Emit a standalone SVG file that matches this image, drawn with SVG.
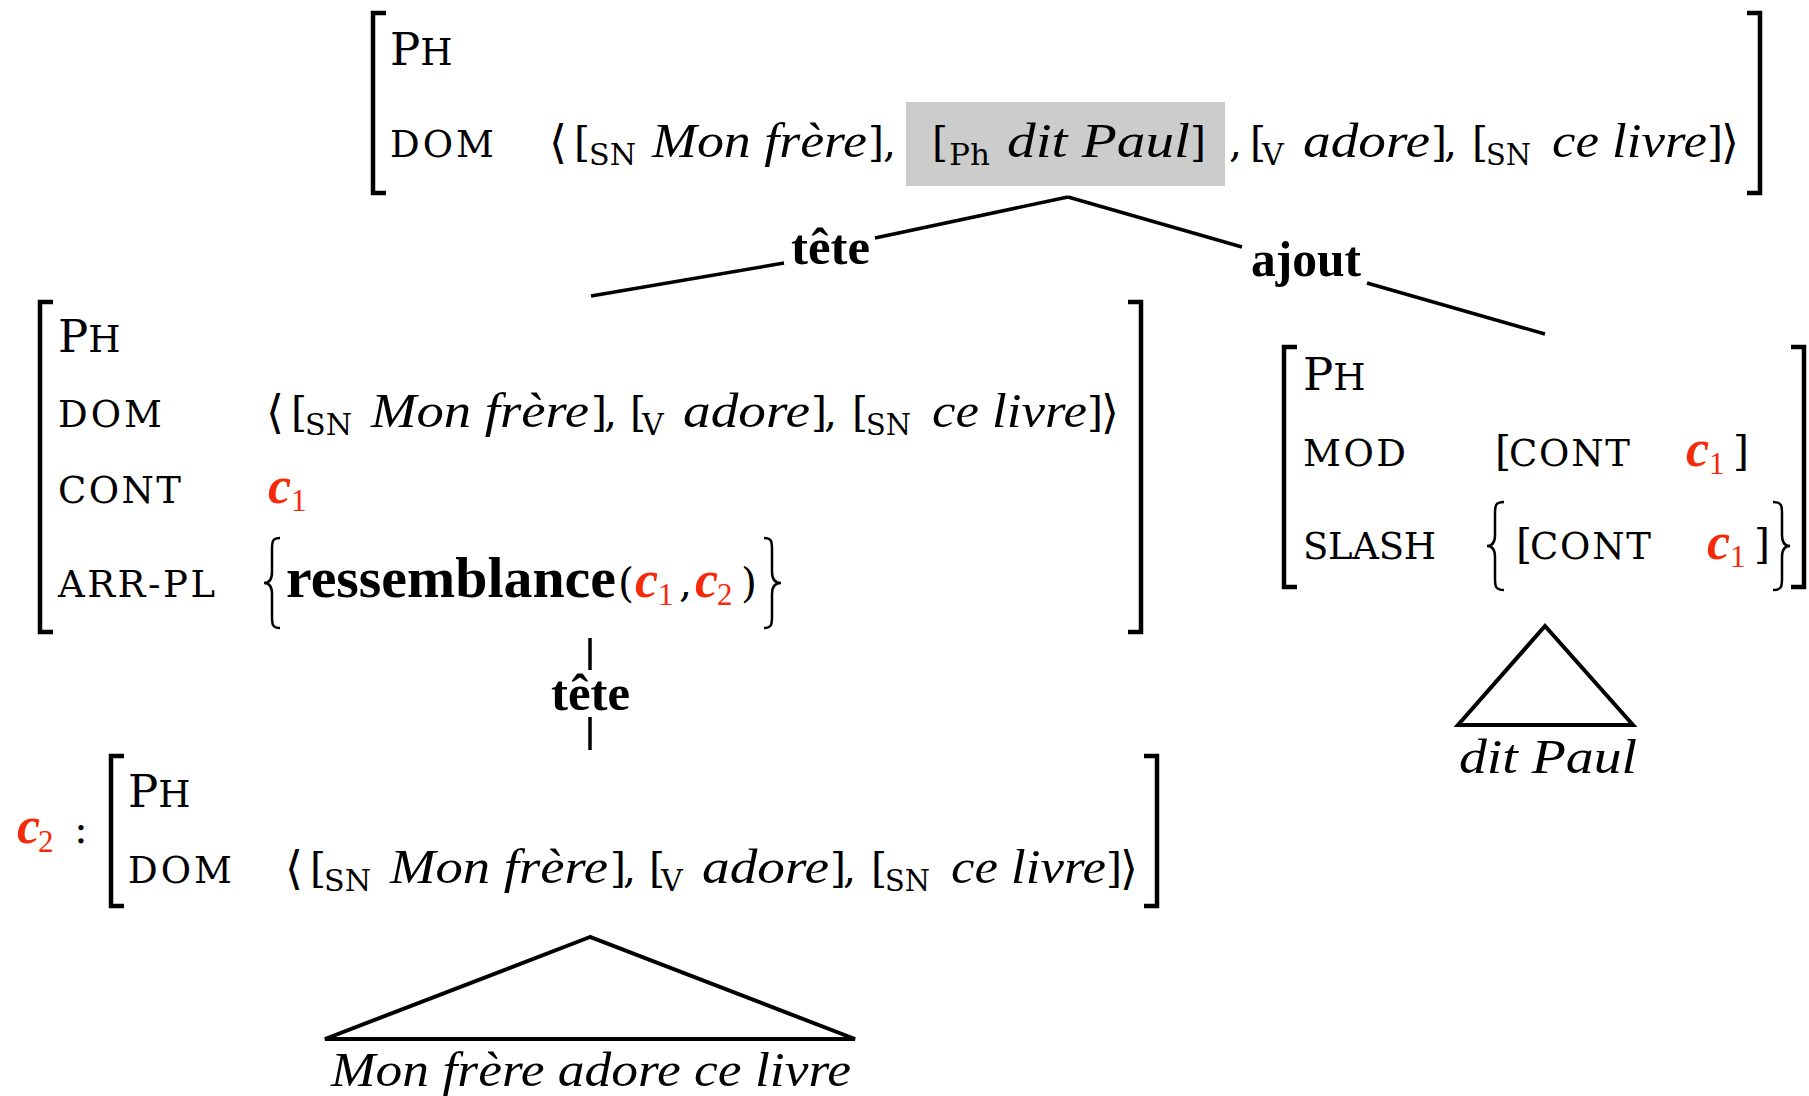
<svg xmlns="http://www.w3.org/2000/svg" width="1809" height="1096" viewBox="0 0 1809 1096">
<style>
text{font-family:"DejaVu Serif","Liberation Serif",serif;font-size:41px;fill:#000}
.i{font-family:"Liberation Serif",serif;font-style:italic;font-size:48px}
.ang{font-size:46px}
.sc{font-size:37px}
.big{font-size:45px}
.sub{font-size:30px}
.b{font-family:"Liberation Serif",serif;font-weight:bold;font-size:51px}
.rb{font-family:"Liberation Serif",serif;font-weight:bold;font-size:58px}
.c{font-family:"Liberation Serif",serif;font-weight:bold;font-style:italic;font-size:52px;fill:#f52a0a}
.n{font-family:"Liberation Serif",serif;font-size:31px;fill:#f52a0a}
.br{fill:none;stroke:#000;stroke-width:4.5}
.cb{fill:none;stroke:#000;stroke-width:2.5}
.ln{fill:none;stroke:#000;stroke-width:3.5}
.tri{fill:none;stroke:#000;stroke-width:4;stroke-linejoin:miter}
</style>

<g id="connectors">
<line class="ln" x1="1068" y1="197" x2="875" y2="238"/>
<line class="ln" x1="784" y1="263" x2="591" y2="296"/>
<text class="b" x="791" y="264" textLength="79" lengthAdjust="spacingAndGlyphs">tête</text>
<line class="ln" x1="1068" y1="197" x2="1242" y2="247"/>
<line class="ln" x1="1367" y1="283" x2="1545" y2="334"/>
<text class="b" x="1251" y="276" textLength="110" lengthAdjust="spacingAndGlyphs">ajout</text>
<line class="ln" x1="590" y1="638" x2="590" y2="670"/>
<line class="ln" x1="590" y1="717" x2="590" y2="750"/>
<text class="b" x="551" y="710" textLength="79" lengthAdjust="spacingAndGlyphs">tête</text>
</g>

<g id="node-top">
<rect x="906" y="102" width="319" height="84" fill="#cccccc"/>
<path class="br" d="M386,13 H373 V193 H386"/>
<path class="br" d="M1747,13 H1760 V193 H1747"/>
<text x="390" y="65"><tspan class="big">P</tspan><tspan class="sc">H</tspan></text>
<text class="sc" x="390" y="157" textLength="104" lengthAdjust="spacing">DOM</text>
<text class="ang" x="549" y="158">⟨</text>
<text x="574" y="157">[</text>
<text class="sub" x="589" y="165" textLength="47" lengthAdjust="spacingAndGlyphs">SN</text>
<text class="i" x="652" y="157" textLength="215" lengthAdjust="spacingAndGlyphs">Mon frère</text>
<text x="868" y="157">]</text>
<text x="883" y="157">,</text>
<text x="932" y="157">[</text>
<text class="sub" x="949" y="165" textLength="41" lengthAdjust="spacingAndGlyphs">Ph</text>
<text class="i" x="1007" y="157" textLength="183" lengthAdjust="spacingAndGlyphs">dit Paul</text>
<text x="1190" y="157">]</text>
<text x="1229" y="157">,</text>
<text x="1250" y="157">[</text>
<text class="sub" x="1262" y="165">V</text>
<text class="i" x="1303" y="157" textLength="127" lengthAdjust="spacingAndGlyphs">adore</text>
<text x="1431" y="157">]</text>
<text x="1444" y="157">,</text>
<text x="1472" y="157">[</text>
<text class="sub" x="1486" y="165" textLength="45" lengthAdjust="spacingAndGlyphs">SN</text>
<text class="i" x="1552" y="157" textLength="155" lengthAdjust="spacingAndGlyphs">ce livre</text>
<text x="1707" y="157">]</text>
<text class="ang" x="1721" y="158">⟩</text>
</g>

<g id="node-tete">
<path class="br" d="M53,302 H40 V632 H53"/>
<path class="br" d="M1128,302 H1141 V632 H1128"/>
<text x="58" y="352"><tspan class="big">P</tspan><tspan class="sc">H</tspan></text>
<text class="sc" x="58" y="427" textLength="104" lengthAdjust="spacing">DOM</text>
<text class="sc" x="58" y="503" textLength="123" lengthAdjust="spacing">CONT</text>
<text class="sc" x="58" y="597" textLength="157" lengthAdjust="spacing">ARR-PL</text>
<text class="ang" x="266" y="428">⟨</text>
<text x="291" y="427">[</text>
<text class="sub" x="305" y="435" textLength="47" lengthAdjust="spacingAndGlyphs">SN</text>
<text class="i" x="371" y="427" textLength="218" lengthAdjust="spacingAndGlyphs">Mon frère</text>
<text x="591" y="427">]</text>
<text x="604" y="427">,</text>
<text x="630" y="427">[</text>
<text class="sub" x="642" y="435">V</text>
<text class="i" x="683" y="427" textLength="127" lengthAdjust="spacingAndGlyphs">adore</text>
<text x="811" y="427">]</text>
<text x="824" y="427">,</text>
<text x="852" y="427">[</text>
<text class="sub" x="866" y="435" textLength="45" lengthAdjust="spacingAndGlyphs">SN</text>
<text class="i" x="932" y="427" textLength="155" lengthAdjust="spacingAndGlyphs">ce livre</text>
<text x="1087" y="427">]</text>
<text class="ang" x="1101" y="428">⟩</text>
<text class="c" x="268" y="503">c</text>
<text class="n" x="291" y="511">1</text>
<path class="cb" d="M280,538 C272,538 272,542 272,550 L272,572 C272,579 269,583 264,583 C269,583 272,587 272,594 L272,616 C272,624 272,628 280,628"/>
<text class="rb" x="286" y="597" textLength="330" lengthAdjust="spacingAndGlyphs">ressemblance</text>
<text x="618" y="597">(</text>
<text class="c" x="635" y="597">c</text>
<text class="n" x="658" y="605">1</text>
<text x="679" y="597">,</text>
<text class="c" x="695" y="597">c</text>
<text class="n" x="717" y="605">2</text>
<text x="741" y="597">)</text>
<path class="cb" d="M764,538 C772,538 772,542 772,550 L772,572 C772,579 775,583 781,583 C775,583 772,587 772,594 L772,616 C772,624 772,628 764,628"/>
</g>

<g id="node-ajout">
<path class="br" d="M1297,347 H1284 V587 H1297"/>
<path class="br" d="M1791,347 H1804 V587 H1791"/>
<text x="1303" y="390"><tspan class="big">P</tspan><tspan class="sc">H</tspan></text>
<text class="sc" x="1303" y="466" textLength="103" lengthAdjust="spacing">MOD</text>
<text class="sc" x="1303" y="559" textLength="133" lengthAdjust="spacing">SLASH</text>
<text x="1495" y="466">[</text>
<text class="sc" x="1509" y="466" textLength="121" lengthAdjust="spacing">CONT</text>
<text class="c" x="1686" y="466">c</text>
<text class="n" x="1709" y="474">1</text>
<text x="1733" y="466">]</text>
<path class="cb" d="M1504,502 C1495,502 1495,506 1495,514 L1495,535 C1495,542 1492,546 1487,546 C1492,546 1495,550 1495,557 L1495,578 C1495,586 1495,590 1504,590"/>
<text x="1516" y="559">[</text>
<text class="sc" x="1530" y="559" textLength="121" lengthAdjust="spacing">CONT</text>
<text class="c" x="1707" y="559">c</text>
<text class="n" x="1730" y="567">1</text>
<text x="1754" y="559">]</text>
<path class="cb" d="M1773,502 C1782,502 1782,506 1782,514 L1782,535 C1782,542 1785,546 1790,546 C1785,546 1782,550 1782,557 L1782,578 C1782,586 1782,590 1773,590"/>
</g>

<g id="tri-dit-paul">
<polygon class="tri" points="1545,626 1458,725 1633,725"/>
<text class="i" x="1459" y="773" textLength="178" lengthAdjust="spacingAndGlyphs">dit Paul</text>
</g>

<g id="node-c2">
<text class="c" x="17" y="843">c</text>
<text class="n" x="38" y="852">2</text>
<text x="74" y="843">:</text>
<path class="br" d="M124,756 H111 V906 H124"/>
<path class="br" d="M1144,756 H1157 V906 H1144"/>
<text x="128" y="807"><tspan class="big">P</tspan><tspan class="sc">H</tspan></text>
<text class="sc" x="128" y="883" textLength="104" lengthAdjust="spacing">DOM</text>
<text class="ang" x="285" y="884">⟨</text>
<text x="310" y="883">[</text>
<text class="sub" x="324" y="891" textLength="47" lengthAdjust="spacingAndGlyphs">SN</text>
<text class="i" x="390" y="883" textLength="218" lengthAdjust="spacingAndGlyphs">Mon frère</text>
<text x="610" y="883">]</text>
<text x="623" y="883">,</text>
<text x="649" y="883">[</text>
<text class="sub" x="661" y="891">V</text>
<text class="i" x="702" y="883" textLength="127" lengthAdjust="spacingAndGlyphs">adore</text>
<text x="830" y="883">]</text>
<text x="843" y="883">,</text>
<text x="871" y="883">[</text>
<text class="sub" x="885" y="891" textLength="45" lengthAdjust="spacingAndGlyphs">SN</text>
<text class="i" x="951" y="883" textLength="155" lengthAdjust="spacingAndGlyphs">ce livre</text>
<text x="1106" y="883">]</text>
<text class="ang" x="1120" y="884">⟩</text>
</g>

<g id="tri-phrase">
<polygon class="tri" points="590,937 325,1039 855,1039"/>
<text class="i" x="331" y="1086" textLength="520" lengthAdjust="spacingAndGlyphs">Mon frère adore ce livre</text>
</g>
</svg>
